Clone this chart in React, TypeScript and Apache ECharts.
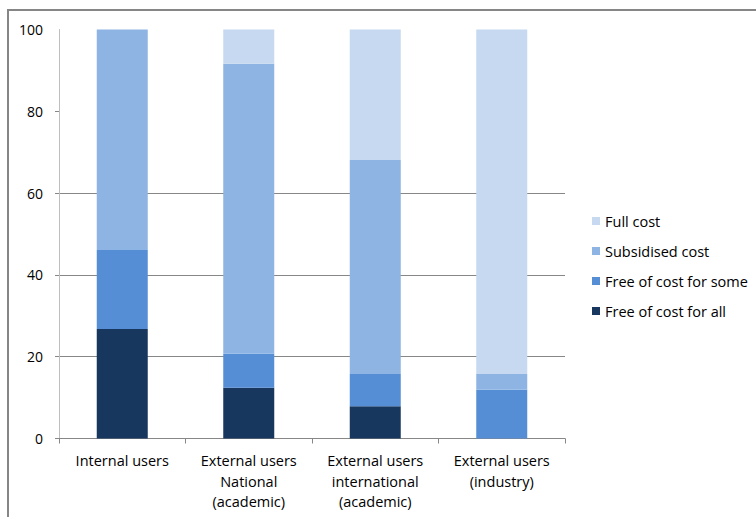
import React, { useEffect, useRef } from "react";
import * as echarts from "echarts";

const categories = [
  "Internal users",
  "External users\nNational\n(academic)",
  "External users\ninternational\n(academic)",
  "External users\n(industry)",
];
const freeAll = [26.8, 12.4, 7.9, 0];
const freeSome = [19.3, 8.3, 7.9, 11.9];
const subsidised = [53.9, 70.9, 52.3, 3.9];
const fullCost = [0, 8.4, 31.9, 84.2];
const yTicks = [0, 20, 40, 60, 80, 100];

const seriesNames = ["Free of cost for all", "Free of cost for some", "Subsidised cost", "Full cost"];
const seriesColors = ["#17375E", "#558ED5", "#8EB4E3", "#C6D9F1"];
const seriesData = [freeAll, freeSome, subsidised, fullCost];

const FONT = "'Open Sans', 'Liberation Sans', sans-serif";

export default function App() {
  const ref = useRef<HTMLDivElement>(null);
  useEffect(() => {
    if (!ref.current) return;
    const chart = echarts.init(ref.current, null, { renderer: "svg" });
    chart.setOption({
      animation: false,
      backgroundColor: "#ffffff",
      grid: { left: 59, top: 29.5, right: 191, bottom: 78.5, containLabel: false },
      graphic: [
        {
          type: "rect",
          shape: { x: 8, y: 10, width: 900, height: 700 },
          style: { fill: "none", stroke: "#868686", lineWidth: 2 },
          silent: true,
        },
      ],
      legend: {
        orient: "vertical",
        left: 592,
        top: 213,
        padding: 0,
        itemWidth: 8,
        itemHeight: 8,
        itemGap: 14,
        icon: "rect",
        data: ["Full cost", "Subsidised cost", "Free of cost for some", "Free of cost for all"],
        textStyle: { fontFamily: FONT, fontSize: 14.5, color: "#000", lineHeight: 16 },
      },
      xAxis: {
        type: "category",
        data: categories,
        axisLine: { lineStyle: { color: "#878787", width: 1 } },
        axisTick: { show: true, length: 5, lineStyle: { color: "#878787" } },
        axisLabel: { fontFamily: FONT, fontSize: 14.5, color: "#000", lineHeight: 20.5, margin: 12, interval: 0 },
        splitLine: { show: false },
      },
      yAxis: {
        type: "value",
        min: 0,
        max: 100,
        interval: 20,
        axisLine: { show: true, lineStyle: { color: "#BEBEBE", width: 1 } },
        axisTick: { show: true, length: 4, customValues: yTicks.slice(0, 5), lineStyle: { color: "#878787" } },
        axisLabel: { fontFamily: FONT, fontSize: 14, color: "#000", margin: 16, customValues: yTicks },
        splitLine: { show: true, showMaxLine: false, showMinLine: false, lineStyle: { color: "#878787", width: 1 } },
      },
      series: seriesNames.map((name, i) => ({
        name,
        type: "bar",
        stack: "total",
        barWidth: 51,
        data: seriesData[i],
        itemStyle: { color: seriesColors[i] },
      })),
    });
    return () => chart.dispose();
  }, []);
  return <div ref={ref} style={{ position: "fixed", left: 0, top: 0, width: 756, height: 517 }} />;
}
